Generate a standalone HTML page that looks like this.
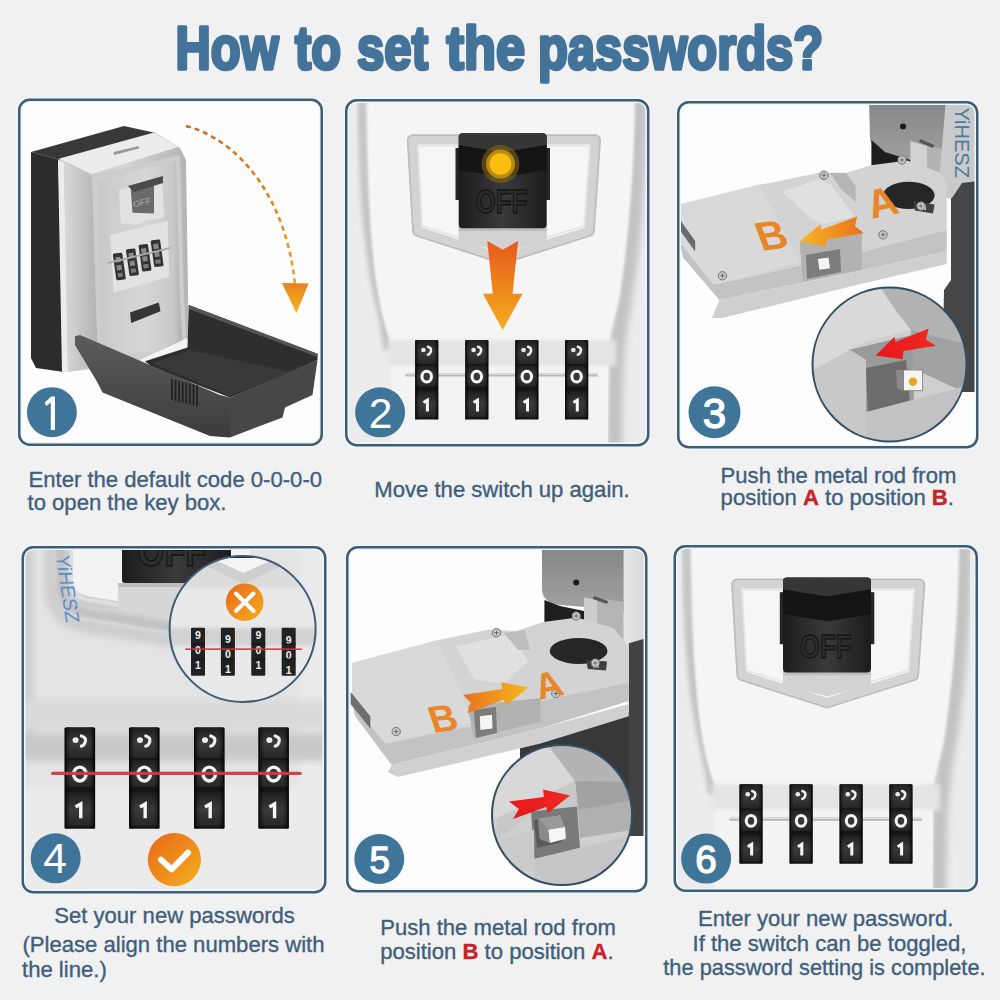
<!DOCTYPE html>
<html><head><meta charset="utf-8"><style>
html,body{margin:0;padding:0;background:#f1f1f1;width:1000px;height:1000px;overflow:hidden}
svg{display:block;font-family:"Liberation Sans",sans-serif}
</style></head><body>
<svg width="1000" height="1000" viewBox="0 0 1000 1000">
<rect width="1000" height="1000" fill="#f1f1f1"/>

<defs>
 <linearGradient id="dialg" x1="0" x2="1" y1="0" y2="0">
  <stop offset="0" stop-color="#000" stop-opacity="0.55"/><stop offset="0.2" stop-color="#000" stop-opacity="0"/><stop offset="0.8" stop-color="#000" stop-opacity="0"/><stop offset="1" stop-color="#000" stop-opacity="0.55"/>
 </linearGradient>
 <linearGradient id="dsec" x1="0" x2="0" y1="0" y2="1">
  <stop offset="0" stop-color="#1e1e1e"/><stop offset="0.5" stop-color="#3a3a3a"/><stop offset="1" stop-color="#262626"/>
 </linearGradient>
 <linearGradient id="arrowv" x1="0" x2="0" y1="0" y2="1">
  <stop offset="0" stop-color="#e65a1c"/><stop offset="1" stop-color="#f5ad1f"/>
 </linearGradient>
 <linearGradient id="arrowh" x1="1" x2="0" y1="0" y2="0">
  <stop offset="0" stop-color="#e8711c"/><stop offset="1" stop-color="#f6b722"/>
 </linearGradient>
 <linearGradient id="arrowh2" x1="0" x2="1" y1="0" y2="0">
  <stop offset="0" stop-color="#e8711c"/><stop offset="1" stop-color="#f6b722"/>
 </linearGradient>
 <linearGradient id="orangec" x1="0" x2="1" y1="0" y2="1">
  <stop offset="0" stop-color="#e8661a"/><stop offset="1" stop-color="#f5b01e"/>
 </linearGradient>
 <linearGradient id="silver" x1="0" x2="1" y1="0" y2="0">
  <stop offset="0" stop-color="#c2c2c2"/><stop offset="0.5" stop-color="#d4d4d4"/><stop offset="1" stop-color="#b4b4b4"/>
 </linearGradient>
 <linearGradient id="face1" x1="0" x2="1" y1="0" y2="0">
  <stop offset="0" stop-color="#c9c9c9"/><stop offset="0.55" stop-color="#d6d6d6"/><stop offset="0.88" stop-color="#c9c9c9"/><stop offset="1" stop-color="#aeaeae"/>
 </linearGradient>
 <linearGradient id="bevel1" x1="0" x2="1" y1="0" y2="0">
  <stop offset="0" stop-color="#d8d8d8"/><stop offset="1" stop-color="#b2b2b2"/>
 </linearGradient>
 <linearGradient id="dash1" gradientUnits="userSpaceOnUse" x1="186" y1="126" x2="295" y2="285">
  <stop offset="0" stop-color="#c96a1e"/><stop offset="1" stop-color="#eea021"/>
 </linearGradient>
 <linearGradient id="head1" x1="0" x2="0" y1="0" y2="1">
  <stop offset="0" stop-color="#e9811c"/><stop offset="1" stop-color="#f7b524"/>
 </linearGradient>
 <linearGradient id="box3" x1="0" x2="0" y1="0" y2="1">
  <stop offset="0" stop-color="#858585"/><stop offset="1" stop-color="#a2a2a2"/>
 </linearGradient>
 <linearGradient id="strip5" x1="0" x2="1" y1="0" y2="0">
  <stop offset="0" stop-color="#e6e6e6"/><stop offset="1" stop-color="#d4d4d4"/>
 </linearGradient>
 <linearGradient id="lidfront" x1="0" x2="0" y1="0" y2="1">
  <stop offset="0" stop-color="#5c5c5c"/><stop offset="1" stop-color="#3c3c3c"/>
 </linearGradient>
 <linearGradient id="redarrow" x1="0" x2="1" y1="0" y2="0">
  <stop offset="0" stop-color="#e8161b"/><stop offset="1" stop-color="#ee2a24"/>
 </linearGradient>
 <linearGradient id="sw" x1="0" x2="1" y1="0" y2="0">
  <stop offset="0" stop-color="#1c1c1c"/><stop offset="0.5" stop-color="#3a3a3a"/><stop offset="1" stop-color="#1c1c1c"/>
 </linearGradient>
 <linearGradient id="bodyshade" x1="0" x2="1" y1="0" y2="0">
  <stop offset="0" stop-color="#d8d8d8"/><stop offset="0.12" stop-color="#ececec"/><stop offset="0.3" stop-color="#f6f6f6"/>
  <stop offset="0.8" stop-color="#f4f4f4"/><stop offset="0.92" stop-color="#dcdcdc"/><stop offset="1" stop-color="#e8e8e8"/>
 </linearGradient>
 <filter id="blur2" x="-20%" y="-20%" width="140%" height="140%"><feGaussianBlur stdDeviation="2"/></filter>
 <filter id="blur3" x="-20%" y="-20%" width="140%" height="140%"><feGaussianBlur stdDeviation="3.5"/></filter>
 <filter id="blur1" x="-20%" y="-20%" width="140%" height="140%"><feGaussianBlur stdDeviation="1"/></filter>
<clipPath id="cp0"><rect x="19" y="99.5" width="303" height="345.5" rx="10"/></clipPath>
<clipPath id="cp1"><rect x="346" y="100" width="302.5" height="345.5" rx="10"/></clipPath>
<clipPath id="cp2"><rect x="678" y="102" width="299.5" height="345.5" rx="10"/></clipPath>
<clipPath id="cp3"><rect x="22.5" y="547" width="303" height="345.5" rx="10"/></clipPath>
<clipPath id="cp4"><rect x="347" y="547" width="299.5" height="344.5" rx="10"/></clipPath>
<clipPath id="cp5"><rect x="674.5" y="546" width="302.5" height="345" rx="10"/></clipPath>
<clipPath id="mag3"><circle cx="889.5" cy="364.6" r="77"/></clipPath>
<clipPath id="mag4"><circle cx="242.6" cy="629" r="73"/></clipPath>
<clipPath id="mag5"><circle cx="562" cy="815" r="70"/></clipPath>
</defs>
<g clip-path="url(#cp0)"><rect x="18" y="98" width="306" height="349" fill="#fdfdfd"/>
<polygon points="31.0,152.0 124.0,126.0 156.0,133.0 150.0,136.0 60.0,160.0" fill="#383838" />
<polygon points="31.0,152.0 60.0,160.0 64.0,372.0 36.0,368.0 31.0,358.0" fill="#2c2c2c" />
<polygon points="58.0,160.0 150.0,135.0 156.0,133.0 180.0,148.0 186.0,160.0 189.0,357.0 66.0,372.0" fill="url(#silver)" />
<polygon points="58.7,158.7 154.0,132.6 178.0,147.0 92.0,174.0" fill="#ececec" />
<polygon points="113.6,152.0 138.8,146.0 139.0,148.5 114.0,155.0" fill="#9a9a9a" />
<polygon points="58.0,160.0 64.0,162.0 68.0,372.0 62.0,372.0" fill="#ececec" />
<polygon points="64.0,162.0 92.0,176.0 98.0,362.0 68.0,372.0" fill="url(#bevel1)" />
<polygon points="92.0,176.0 180.0,155.0 184.0,300.0 188.0,357.0 98.0,362.0 96.0,300.0" fill="#cdcdcd" />
<polygon points="98.0,180.0 176.0,161.0 180.0,300.0 183.0,350.0 100.0,355.0" fill="url(#face1)" />
<polygon points="119.0,190.2 162.2,177.6 164.0,218.0 146.0,220.8 137.0,224.4 120.8,223.5" fill="#e2e2e2" />
<polygon points="130.7,188.4 154.0,181.2 154.0,213.6 132.5,212.7" fill="#6a6a6a" />
<polygon points="128.0,186.0 163.0,176.0 163.0,183.0 134.0,192.0" fill="#4a4a4a" />
<text x="133" y="206" font-size="9" fill="#999" font-family="Liberation Sans" font-weight="bold" transform="rotate(-12 140 203)">OFF</text>
<polygon points="110.0,235.0 167.6,220.8 169.4,276.6 113.6,292.8" fill="#e2e2e2" />
<g transform="rotate(-8 119.5 266)"><rect x="114.5" y="253" width="9.5" height="27" rx="1.5" fill="#333"/><rect x="116.5" y="257" width="5" height="5" fill="#8a8a8a"/><rect x="116.5" y="265" width="5" height="5" fill="#8a8a8a"/><rect x="116.5" y="273" width="5" height="4" fill="#7a7a7a"/></g>
<g transform="rotate(-8 132.6 261.7)"><rect x="127.6" y="248.7" width="9.5" height="27" rx="1.5" fill="#333"/><rect x="129.6" y="252.7" width="5" height="5" fill="#8a8a8a"/><rect x="129.6" y="260.7" width="5" height="5" fill="#8a8a8a"/><rect x="129.6" y="268.7" width="5" height="4" fill="#7a7a7a"/></g>
<g transform="rotate(-8 145.2 257.2)"><rect x="140.2" y="244.2" width="9.5" height="27" rx="1.5" fill="#333"/><rect x="142.2" y="248.2" width="5" height="5" fill="#8a8a8a"/><rect x="142.2" y="256.2" width="5" height="5" fill="#8a8a8a"/><rect x="142.2" y="264.2" width="5" height="4" fill="#7a7a7a"/></g>
<g transform="rotate(-8 157.3 252.7)"><rect x="152.3" y="239.7" width="9.5" height="27" rx="1.5" fill="#333"/><rect x="154.3" y="243.7" width="5" height="5" fill="#8a8a8a"/><rect x="154.3" y="251.7" width="5" height="5" fill="#8a8a8a"/><rect x="154.3" y="259.7" width="5" height="4" fill="#7a7a7a"/></g>
<polygon points="108.0,262.0 170.0,247.0 170.0,249.0 108.0,264.0" fill="#aaa" />
<polygon points="130.0,312.5 158.8,302.5 160.5,311.2 131.2,323.0" fill="#353535" />
<polygon points="135.0,362.0 187.5,338.0 188.8,348.0 145.0,364.0" fill="#f4f4f4" />
<polygon points="145.0,361.2 187.5,347.5 188.8,305.0 317.5,353.8 317.5,360.0 290.0,372.5 230.0,397.5 152.5,367.5" fill="#2e2e2e" />
<polygon points="152.0,363.0 190.0,350.0 290.0,372.0 230.0,396.0" fill="#393939" />
<polygon points="188.8,305.0 317.5,353.8 317.5,357.0 188.8,309.0" fill="#555" />
<polygon points="230.0,397.5 317.5,360.0 312.5,395.0 285.0,407.5 282.5,417.5 230.0,437.5" fill="#474747" />
<polygon points="75.0,336.2 80.0,335.0 220.0,395.0 230.0,397.5 230.0,437.5 210.0,436.0 102.5,392.5 97.5,382.5 75.0,345.0" fill="url(#lidfront)" />
<rect x="171.0" y="379.0" width="1.8" height="21" fill="#222"/>
<rect x="174.6" y="379.9" width="1.8" height="21" fill="#222"/>
<rect x="178.2" y="380.8" width="1.8" height="21" fill="#222"/>
<rect x="181.8" y="381.7" width="1.8" height="21" fill="#222"/>
<rect x="185.4" y="382.6" width="1.8" height="21" fill="#222"/>
<rect x="189.0" y="383.5" width="1.8" height="21" fill="#222"/>
<rect x="192.6" y="384.4" width="1.8" height="21" fill="#222"/>
<rect x="196.2" y="385.3" width="1.8" height="21" fill="#222"/>
<path d="M186,126 C240,140 287,200 295,285" fill="none" stroke="url(#dash1)" stroke-width="2.6" stroke-dasharray="5,4"/>
<polygon points="282,283 308.6,283.6 296.4,313.3" fill="url(#head1)"/>
<circle cx="51.9" cy="412.2" r="25" fill="#40759a"/><polygon points="51.2,396.4 55,396.4 55,430 50.8,430 50.8,402.6 46.4,405.9 44.5,402.7" fill="#fff"/></g>
<g clip-path="url(#cp1)"><rect x="345" y="99" width="306" height="350" fill="#ececec"/>
<path d="M362,92 C363,180 366,235 377,292 C382,312 386,330 388,350" fill="none" stroke="#c4c4c4" stroke-width="9" filter="url(#blur2)"/>
<path d="M640,92 C639,180 632,250 624,300 C618,330 614,360 614,455" fill="none" stroke="#c2c2c2" stroke-width="16" filter="url(#blur3)"/>
<path d="M367,92 L635,92 C634,180 627,250 619,300 L609,340 L607,455 L392,455 L392,345 C385,330 375,292 372,240 C369,205 368,150 367,92 Z" fill="#f5f5f5" filter="url(#blur1)"/>
<rect x="388" y="340" width="228" height="26" fill="#e4e4e4" filter="url(#blur2)"/>
<rect x="392" y="368" width="214" height="90" fill="#f3f3f3" filter="url(#blur2)"/>
<path d="M412.8,140.3 L595,140.3 L588.8,230.9 L502.6,258.2 L418.1,230.9 Z" fill="#f6f6f6" stroke="#bdbdbd" stroke-width="12" stroke-linejoin="round"/>
<path d="M412.8,140.3 L595,140.3 L588.8,230.9 L502.6,258.2 L418.1,230.9 Z" fill="#f6f6f6" stroke="#d3d3d3" stroke-width="8.5" stroke-linejoin="round"/>
<path d="M418,146 L590,146 L584,226 L502.6,251 L422,226 Z" fill="none" stroke="#e4e4e4" stroke-width="1.5" stroke-linejoin="round"/>
<path d="M458.7,226 L546.7,226 L546.7,241 L502.7,252 L458.7,241 Z" fill="#d2d2d2"/>
<rect x="458.7" y="226" width="88" height="5" fill="#bdbdbd"/>
<rect x="455.5" y="148" width="5" height="52" fill="#262626"/><rect x="545" y="148" width="5" height="52" fill="#262626"/>
<rect x="458.7" y="133.2" width="88" height="95" rx="4" fill="url(#sw)"/>
<polygon points="458.7,145.0 502.7,152.0 546.7,145.0 546.7,170.0 502.7,177.0 458.7,170.0" fill="#141414" />
<path d="M462.7,133.2 L542.7,133.2 Q546.7,133.2 546.7,137 L546.7,145 L502.7,152 L458.7,145 L458.7,137 Q458.7,133.2 462.7,133.2 Z" fill="#363636"/>
<g transform="translate(501.5 0) scale(0.78 1) translate(-501.5 0)"><text x="501.5" y="213.5" font-size="33" fill="#2c2c2c" stroke="#141414" stroke-width="1.3" text-anchor="middle" font-family="Liberation Sans" font-weight="bold">OFF</text></g>
<circle cx="500.5" cy="164" r="19" fill="#8a6a14" opacity="0.55"/>
<circle cx="500.5" cy="164" r="14.5" fill="#b88a12"/>
<circle cx="500.5" cy="164" r="10.8" fill="#fcbd12"/>
<polygon points="487.3,241.0 502.7,249.8 518.1,241.0 512.6,293.8 522.5,293.8 502.7,330.0 482.9,293.8 492.8,293.8" fill="url(#arrowv)" />
<rect x="405" y="373" width="193" height="3.6" rx="1.6" fill="#b8b8b8"/>
<rect x="405" y="373.4" width="193" height="1.2" fill="#ececec"/>
<rect x="415.1" y="340" width="23.2" height="79.6" rx="1.2" fill="#151515"/>
<rect x="416.49" y="340.00" width="20.42" height="24.12" fill="url(#dsec)"/>
<rect x="416.49" y="365.47" width="20.42" height="21.09" fill="url(#dsec)"/>
<rect x="416.49" y="390.94" width="20.42" height="26.27" fill="url(#dsec)"/>
<rect x="415.1" y="340" width="23.2" height="79.6" rx="1.2" fill="url(#dialg)"/>
<path d="M427.86,346.77 Q431.80,347.96 430.88,351.14 Q429.95,354.33 427.86,354.73" fill="none" stroke="#f0f0f0" stroke-width="2.45" stroke-linecap="round"/>
<ellipse cx="423.45" cy="349.95" rx="2.32" ry="2.23" fill="#ececec"/>
<ellipse cx="426.70" cy="376.62" rx="4.76" ry="5.41" fill="none" stroke="#f6f6f6" stroke-width="3.02"/>
<path d="M423.45,402.49 L427.40,400.10 L427.40,411.40" fill="none" stroke="#f6f6f6" stroke-width="3.02" stroke-linejoin="miter"/>
<rect x="465.2" y="340" width="23.2" height="79.6" rx="1.2" fill="#151515"/>
<rect x="466.59" y="340.00" width="20.42" height="24.12" fill="url(#dsec)"/>
<rect x="466.59" y="365.47" width="20.42" height="21.09" fill="url(#dsec)"/>
<rect x="466.59" y="390.94" width="20.42" height="26.27" fill="url(#dsec)"/>
<rect x="465.2" y="340" width="23.2" height="79.6" rx="1.2" fill="url(#dialg)"/>
<path d="M477.96,346.77 Q481.90,347.96 480.98,351.14 Q480.05,354.33 477.96,354.73" fill="none" stroke="#f0f0f0" stroke-width="2.45" stroke-linecap="round"/>
<ellipse cx="473.55" cy="349.95" rx="2.32" ry="2.23" fill="#ececec"/>
<ellipse cx="476.80" cy="376.62" rx="4.76" ry="5.41" fill="none" stroke="#f6f6f6" stroke-width="3.02"/>
<path d="M473.55,402.49 L477.50,400.10 L477.50,411.40" fill="none" stroke="#f6f6f6" stroke-width="3.02" stroke-linejoin="miter"/>
<rect x="515.2" y="340" width="23.2" height="79.6" rx="1.2" fill="#151515"/>
<rect x="516.59" y="340.00" width="20.42" height="24.12" fill="url(#dsec)"/>
<rect x="516.59" y="365.47" width="20.42" height="21.09" fill="url(#dsec)"/>
<rect x="516.59" y="390.94" width="20.42" height="26.27" fill="url(#dsec)"/>
<rect x="515.2" y="340" width="23.2" height="79.6" rx="1.2" fill="url(#dialg)"/>
<path d="M527.96,346.77 Q531.90,347.96 530.98,351.14 Q530.05,354.33 527.96,354.73" fill="none" stroke="#f0f0f0" stroke-width="2.45" stroke-linecap="round"/>
<ellipse cx="523.55" cy="349.95" rx="2.32" ry="2.23" fill="#ececec"/>
<ellipse cx="526.80" cy="376.62" rx="4.76" ry="5.41" fill="none" stroke="#f6f6f6" stroke-width="3.02"/>
<path d="M523.55,402.49 L527.50,400.10 L527.50,411.40" fill="none" stroke="#f6f6f6" stroke-width="3.02" stroke-linejoin="miter"/>
<rect x="565" y="340" width="23.2" height="79.6" rx="1.2" fill="#151515"/>
<rect x="566.39" y="340.00" width="20.42" height="24.12" fill="url(#dsec)"/>
<rect x="566.39" y="365.47" width="20.42" height="21.09" fill="url(#dsec)"/>
<rect x="566.39" y="390.94" width="20.42" height="26.27" fill="url(#dsec)"/>
<rect x="565" y="340" width="23.2" height="79.6" rx="1.2" fill="url(#dialg)"/>
<path d="M577.76,346.77 Q581.70,347.96 580.78,351.14 Q579.85,354.33 577.76,354.73" fill="none" stroke="#f0f0f0" stroke-width="2.45" stroke-linecap="round"/>
<ellipse cx="573.35" cy="349.95" rx="2.32" ry="2.23" fill="#ececec"/>
<ellipse cx="576.60" cy="376.62" rx="4.76" ry="5.41" fill="none" stroke="#f6f6f6" stroke-width="3.02"/>
<path d="M573.35,402.49 L577.30,400.10 L577.30,411.40" fill="none" stroke="#f6f6f6" stroke-width="3.02" stroke-linejoin="miter"/>
<circle cx="380.1" cy="412.3" r="25" fill="#40759a"/><text x="380.6" y="427.6" font-size="42.6" fill="#fff"  text-anchor="middle" font-family="Liberation Sans" >2</text></g>
<g clip-path="url(#cp2)"><rect x="677" y="101" width="302" height="348" fill="#fdfdfd"/>
<path d="M869,99 L949,99 L949,160 L927,167 L910,167 L885,152 Q871,150 870,138 Z" fill="url(#box3)"/>
<circle cx="903" cy="126.6" r="3" fill="#1a1a1a"/>
<polygon points="871.4,140.0 885.0,152.0 910.4,160.0 910.4,168.0 871.4,169.0" fill="#1e1e1e" />
<polygon points="927.0,146.0 949.0,150.0 949.0,178.0 927.0,168.0" fill="#b3b3b3" />
<polygon points="910.4,141.0 927.0,146.0 927.2,167.2 910.4,167.2" fill="#d2d2d2" />
<polygon points="920.0,139.0 934.0,145.0 933.0,148.0 919.0,142.0" fill="#555" />
<polygon points="951.0,185.0 979.0,178.0 979.0,392.0 942.0,392.0 944.0,290.0 951.0,280.0" fill="#464646" />
<polygon points="946.0,99.0 979.0,99.0 979.0,181.0 962.0,183.0 952.0,198.0 940.0,198.0 940.0,170.0" fill="#c9cacc" />
<polygon points="680.0,204.5 758.8,184.8 767.9,183.3 819.4,172.7 846.7,172.7 870.9,165.2 907.3,160.6 940.6,172.7 946.7,184.8 946.7,230.3 907.3,242.4 864.9,251.5 801.2,265.2 713.4,284.8 680.0,242.4" fill="#d3d3d3" />
<polygon points="680.0,204.5 758.8,184.8 800.0,262.0 713.4,284.8 680.0,242.4" fill="#d9d9d9" />
<polygon points="680.0,242.4 713.4,284.8 801.2,265.2 864.9,251.5 946.7,230.3 946.7,251.5 864.9,269.7 719.4,300.0 683.0,257.6" fill="#c3c3c3" />
<polygon points="719.4,300.0 864.9,269.7 946.7,251.5 946.7,264.0 864.9,283.0 722.0,318.0 712.0,318.0" fill="#cfcfcf" />
<polygon points="680.0,219.7 695.2,240.9 695.2,251.5 680.0,230.3" fill="#6a6a6a" />
<polygon points="782.0,192.0 819.0,179.0 831.0,185.0 854.0,216.0 825.0,224.0 812.0,219.0" fill="#e0e0e0" />
<polygon points="830.0,173.0 846.0,173.0 855.6,186.0 855.6,202.0 841.0,189.0" fill="#b6b6b6" />
<ellipse cx="908.8" cy="195.4" rx="25.8" ry="13.6" fill="#262626"/>
<polygon points="913.4,201.5 934.6,204.5 933.0,213.6 914.9,210.6" fill="#404040" />
<rect x="920" y="205" width="6" height="5" fill="#cfcfcf"/>
<polygon points="799.7,242.4 861.8,230.3 861.8,269.7 802.8,281.8" fill="#b2b2b2" />
<polygon points="806.0,255.0 840.0,249.0 841.0,272.0 807.0,279.0" fill="#7c7c7c" />
<polygon points="817.9,259.0 828.5,257.6 830.0,268.2 819.4,269.7" fill="#f4f4f4" />
<circle cx="722.5" cy="275.8" r="4.2" fill="#c8c8c8" stroke="#6a6a6a" stroke-width="0.9"/><path d="M720.2,275.8 L724.8,275.8 M722.5,273.5 L722.5,278.1" stroke="#666" stroke-width="0.9"/>
<circle cx="883" cy="234.8" r="4.2" fill="#c8c8c8" stroke="#6a6a6a" stroke-width="0.9"/><path d="M880.7,234.8 L885.3,234.8 M883.0,232.5 L883.0,237.1" stroke="#666" stroke-width="0.9"/>
<circle cx="824" cy="175.2" r="4.2" fill="#c8c8c8" stroke="#6a6a6a" stroke-width="0.9"/><path d="M821.7,175.2 L826.3,175.2 M824.0,172.9 L824.0,177.5" stroke="#666" stroke-width="0.9"/>
<circle cx="902" cy="160" r="4.2" fill="#c8c8c8" stroke="#6a6a6a" stroke-width="0.9"/><path d="M899.7,160.0 L904.3,160.0 M902.0,157.7 L902.0,162.3" stroke="#666" stroke-width="0.9"/>
<circle cx="921" cy="206" r="4.2" fill="#c8c8c8" stroke="#6a6a6a" stroke-width="0.9"/><path d="M918.7,206.0 L923.3,206.0 M921.0,203.7 L921.0,208.3" stroke="#666" stroke-width="0.9"/>
<g transform="translate(886.5 216) rotate(-12) skewX(6)"><text x="0" y="0" font-size="41" fill="#e8862a" text-anchor="middle" font-family="Liberation Sans" font-weight="bold">A</text></g>
<g transform="translate(776.5 249) rotate(-8) skewX(12)"><text x="0" y="0" font-size="41" fill="#e8862a" text-anchor="middle" font-family="Liberation Sans" font-weight="bold">B</text></g>
<polygon points="799.6,241.2 820.4,224.4 821.6,229.5 857.2,216.4 855.0,226.0 863.6,233.2 827.0,239.5 825.2,246.8" fill="url(#arrowh)" />
<g clip-path="url(#mag3)"><rect x="810" y="285" width="160" height="160" fill="#cfcfcf"/><polygon points="810.0,290.0 879.0,288.0 897.0,312.0 911.0,330.0 862.0,343.0 850.0,350.0 810.0,372.0" fill="#d9d9d9" /><polygon points="879.0,285.0 970.0,285.0 970.0,352.0 911.0,330.0 897.0,312.0" fill="#b3b3b3" /><polygon points="911.0,330.0 970.0,345.0 970.0,395.0 912.0,368.0" fill="#a2a2a2" /><polygon points="848.0,350.0 912.0,335.0 914.0,400.0 866.0,415.0 866.0,360.0" fill="#9a9a9a" /><polygon points="866.0,368.0 906.0,360.0 910.0,404.0 868.0,414.0" fill="#6c6c6c" /><polygon points="810.0,372.0 850.0,350.0 866.0,360.0 866.0,445.0 810.0,445.0" fill="#c8c8c8" /><polygon points="866.0,412.0 970.0,385.0 970.0,445.0 866.0,445.0" fill="#c2c2c2" /><polygon points="896.0,370.0 903.5,370.0 903.5,391.0 897.0,388.0" fill="#8a8a8a" /><rect x="903.5" y="370" width="19" height="20.7" fill="#f5f5f5" stroke="#7a7a7a" stroke-width="0.8"/><circle cx="913" cy="381.7" r="4.2" fill="#e8a81c"/><polygon points="875.6,355.6 894.5,336.7 895.4,342.1 928.7,328.6 926.0,339.4 935.9,345.7 903.5,351.1 902.6,359.2" fill="url(#redarrow)" /></g>
<circle cx="889.5" cy="364.6" r="77" fill="none" stroke="#2f4f66" stroke-width="2"/>
<text x="954.5" y="107.5" font-size="20" fill="#4f7a99" font-family="Liberation Sans" transform="rotate(90 954.5 107.5)">YiHESZ</text>
<circle cx="714.5" cy="412.2" r="26" fill="#40759a"/><text x="714.6" y="427.7" font-size="42.2" fill="#fff" stroke="#fff" stroke-width="1.3" text-anchor="middle" font-family="Liberation Sans" >3</text></g>
<g clip-path="url(#cp3)"><rect x="21" y="546" width="306" height="348" fill="#e3e3e3"/>
<rect x="14" y="540" width="20" height="210" fill="#cfcfcf" filter="url(#blur3)"/>
<rect x="300" y="540" width="30" height="360" fill="#ebebeb" filter="url(#blur3)"/>
<rect x="14" y="700" width="316" height="30" fill="#dadada" filter="url(#blur3)"/>
<rect x="14" y="733" width="316" height="28" fill="#c9c9c9" filter="url(#blur3)"/>
<rect x="14" y="786" width="316" height="110" fill="#ebebeb" filter="url(#blur3)"/>
<path d="M52,540 L52,590 Q54,622 88,626 L250,652" fill="none" stroke="#cdcdcd" stroke-width="14" filter="url(#blur3)"/>
<path d="M73,540 L250,540 L250,622 L96,598 Q76,594 73,585 Z" fill="#f3f3f3"/>
<path d="M62,540 L62,584 Q64,606 92,608 L250,634" fill="none" stroke="#cecece" stroke-width="22" stroke-linejoin="round"/>
<path d="M61,540 L61,588 Q64,612 94,614 L250,640" fill="none" stroke="#c2c2c2" stroke-width="7" filter="url(#blur1)"/>
<path d="M71,540 L71,584 Q73,600 96,601 L250,627" fill="none" stroke="#dedede" stroke-width="4"/>
<path d="M118,583 L233,583 L233,612 L180,622 L118,610 Z" fill="#d6d6d6"/>
<rect x="118" y="583" width="115" height="4" fill="#bdbdbd"/>
<rect x="122" y="540" width="109" height="43" rx="3" fill="url(#sw)"/>
<g transform="translate(172 0) scale(0.78 1) translate(-172 0)"><text x="172" y="566" font-size="44" fill="#2e2e2e" stroke="#141414" stroke-width="1.5" text-anchor="middle" font-family="Liberation Sans" font-weight="bold">OFF</text></g>
<g transform="translate(55.5 555) rotate(81) skewX(-8)"><text x="0" y="0" font-size="19.5" fill="#5c90c8" font-family="Liberation Sans">YiHESZ</text></g>
<rect x="64.6" y="727.4" width="30.5" height="101.4" rx="1.2" fill="#151515"/>
<rect x="66.43" y="727.40" width="26.84" height="30.72" fill="url(#dsec)"/>
<rect x="66.43" y="759.85" width="26.84" height="26.87" fill="url(#dsec)"/>
<rect x="66.43" y="792.30" width="26.84" height="33.46" fill="url(#dsec)"/>
<rect x="64.6" y="727.4" width="30.5" height="101.4" rx="1.2" fill="url(#dialg)"/>
<path d="M81.38,736.02 Q86.56,737.54 85.34,741.60 Q84.12,745.65 81.38,746.16" fill="none" stroke="#f0f0f0" stroke-width="3.22" stroke-linecap="round"/>
<ellipse cx="75.58" cy="740.07" rx="3.05" ry="2.84" fill="#ececec"/>
<ellipse cx="79.85" cy="774.04" rx="6.25" ry="6.90" fill="none" stroke="#f6f6f6" stroke-width="3.40"/>
<path d="M75.58,807.00 L80.76,803.96 L80.76,818.36" fill="none" stroke="#f6f6f6" stroke-width="3.40" stroke-linejoin="miter"/>
<rect x="129" y="727.4" width="30.5" height="101.4" rx="1.2" fill="#151515"/>
<rect x="130.83" y="727.40" width="26.84" height="30.72" fill="url(#dsec)"/>
<rect x="130.83" y="759.85" width="26.84" height="26.87" fill="url(#dsec)"/>
<rect x="130.83" y="792.30" width="26.84" height="33.46" fill="url(#dsec)"/>
<rect x="129" y="727.4" width="30.5" height="101.4" rx="1.2" fill="url(#dialg)"/>
<path d="M145.78,736.02 Q150.96,737.54 149.74,741.60 Q148.52,745.65 145.78,746.16" fill="none" stroke="#f0f0f0" stroke-width="3.22" stroke-linecap="round"/>
<ellipse cx="139.98" cy="740.07" rx="3.05" ry="2.84" fill="#ececec"/>
<ellipse cx="144.25" cy="774.04" rx="6.25" ry="6.90" fill="none" stroke="#f6f6f6" stroke-width="3.40"/>
<path d="M139.98,807.00 L145.16,803.96 L145.16,818.36" fill="none" stroke="#f6f6f6" stroke-width="3.40" stroke-linejoin="miter"/>
<rect x="194" y="727.4" width="30.5" height="101.4" rx="1.2" fill="#151515"/>
<rect x="195.83" y="727.40" width="26.84" height="30.72" fill="url(#dsec)"/>
<rect x="195.83" y="759.85" width="26.84" height="26.87" fill="url(#dsec)"/>
<rect x="195.83" y="792.30" width="26.84" height="33.46" fill="url(#dsec)"/>
<rect x="194" y="727.4" width="30.5" height="101.4" rx="1.2" fill="url(#dialg)"/>
<path d="M210.78,736.02 Q215.96,737.54 214.74,741.60 Q213.52,745.65 210.78,746.16" fill="none" stroke="#f0f0f0" stroke-width="3.22" stroke-linecap="round"/>
<ellipse cx="204.98" cy="740.07" rx="3.05" ry="2.84" fill="#ececec"/>
<ellipse cx="209.25" cy="774.04" rx="6.25" ry="6.90" fill="none" stroke="#f6f6f6" stroke-width="3.40"/>
<path d="M204.98,807.00 L210.16,803.96 L210.16,818.36" fill="none" stroke="#f6f6f6" stroke-width="3.40" stroke-linejoin="miter"/>
<rect x="258.4" y="727.4" width="30.5" height="101.4" rx="1.2" fill="#151515"/>
<rect x="260.23" y="727.40" width="26.84" height="30.72" fill="url(#dsec)"/>
<rect x="260.23" y="759.85" width="26.84" height="26.87" fill="url(#dsec)"/>
<rect x="260.23" y="792.30" width="26.84" height="33.46" fill="url(#dsec)"/>
<rect x="258.4" y="727.4" width="30.5" height="101.4" rx="1.2" fill="url(#dialg)"/>
<path d="M275.17,736.02 Q280.36,737.54 279.14,741.60 Q277.92,745.65 275.17,746.16" fill="none" stroke="#f0f0f0" stroke-width="3.22" stroke-linecap="round"/>
<ellipse cx="269.38" cy="740.07" rx="3.05" ry="2.84" fill="#ececec"/>
<ellipse cx="273.65" cy="774.04" rx="6.25" ry="6.90" fill="none" stroke="#f6f6f6" stroke-width="3.40"/>
<path d="M269.38,807.00 L274.56,803.96 L274.56,818.36" fill="none" stroke="#f6f6f6" stroke-width="3.40" stroke-linejoin="miter"/>
<rect x="51.2" y="771.7" width="250.6" height="3.4" rx="1.7" fill="#cc3b3f" opacity="0.95"/>
<g clip-path="url(#mag4)"><rect x="165" y="550" width="155" height="160" fill="#e9e9e9"/><rect x="160" y="628" width="165" height="18" fill="#d2d2d2" filter="url(#blur2)"/><rect x="160" y="560" width="165" height="28" fill="#dcdcdc" filter="url(#blur2)"/><path d="M190,552 L200,563 L243.5,584 L287,563 L300,552 Z" fill="#cfcfcf"/><path d="M205,552 L215,560 L243.5,573 L272,560 L283,552 Z" fill="#f5f5f5"/><rect x="215" y="550" width="57" height="8" fill="#2a2a2a"/><rect x="191" y="627.7" width="14" height="48" rx="1" fill="#222"/><text x="198" y="639.3" font-size="10.5" fill="#eee" text-anchor="middle" font-family="Liberation Sans" font-weight="bold">9</text><text x="198" y="654" font-size="10.5" fill="#eee" text-anchor="middle" font-family="Liberation Sans" font-weight="bold">0</text><text x="198" y="668.8" font-size="10.5" fill="#eee" text-anchor="middle" font-family="Liberation Sans" font-weight="bold">1</text><rect x="191" y="643.5" width="14" height="1" fill="#111"/><rect x="191" y="658.5" width="14" height="1" fill="#111"/><rect x="220.9" y="627.7" width="14" height="48" rx="1" fill="#222"/><text x="227.9" y="643.3" font-size="10.5" fill="#eee" text-anchor="middle" font-family="Liberation Sans" font-weight="bold">9</text><text x="227.9" y="658" font-size="10.5" fill="#eee" text-anchor="middle" font-family="Liberation Sans" font-weight="bold">0</text><text x="227.9" y="672.8" font-size="10.5" fill="#eee" text-anchor="middle" font-family="Liberation Sans" font-weight="bold">1</text><rect x="220.9" y="643.5" width="14" height="1" fill="#111"/><rect x="220.9" y="658.5" width="14" height="1" fill="#111"/><rect x="251.3" y="627.7" width="14" height="48" rx="1" fill="#222"/><text x="258.3" y="639.3" font-size="10.5" fill="#eee" text-anchor="middle" font-family="Liberation Sans" font-weight="bold">9</text><text x="258.3" y="654" font-size="10.5" fill="#eee" text-anchor="middle" font-family="Liberation Sans" font-weight="bold">0</text><text x="258.3" y="668.8" font-size="10.5" fill="#eee" text-anchor="middle" font-family="Liberation Sans" font-weight="bold">1</text><rect x="251.3" y="643.5" width="14" height="1" fill="#111"/><rect x="251.3" y="658.5" width="14" height="1" fill="#111"/><rect x="281.7" y="627.7" width="14" height="48" rx="1" fill="#222"/><text x="288.7" y="644.3" font-size="10.5" fill="#eee" text-anchor="middle" font-family="Liberation Sans" font-weight="bold">9</text><text x="288.7" y="659" font-size="10.5" fill="#eee" text-anchor="middle" font-family="Liberation Sans" font-weight="bold">0</text><text x="288.7" y="673.8" font-size="10.5" fill="#eee" text-anchor="middle" font-family="Liberation Sans" font-weight="bold">1</text><rect x="281.7" y="643.5" width="14" height="1" fill="#111"/><rect x="281.7" y="658.5" width="14" height="1" fill="#111"/><rect x="185.2" y="648.4" width="116.5" height="1.5" fill="#c8373d"/><circle cx="244.7" cy="602.2" r="18.8" fill="url(#orangec)"/><path d="M236,593.5 L253.5,611 M253.5,593.5 L236,611" stroke="#fff" stroke-width="4" stroke-linecap="round"/></g>
<circle cx="242.6" cy="629" r="73" fill="none" stroke="#3b5d78" stroke-width="2"/>
<circle cx="174.4" cy="859.6" r="26.6" fill="url(#orangec)"/>
<path d="M161,859.6 L171.6,869.4 L188,852.6" fill="none" stroke="#fff" stroke-width="6" stroke-linecap="round" stroke-linejoin="round"/>
<circle cx="55.7" cy="858.3" r="25" fill="#40759a"/><text x="55.0" y="873.3" font-size="42.6" fill="#fff"  text-anchor="middle" font-family="Liberation Sans" >4</text></g>
<g clip-path="url(#cp4)"><rect x="346" y="546" width="302" height="347" fill="#fdfdfd"/>
<path d="M542,544 L624,544 L624,612 L600,612 L585,607 L560,605 Q543,603 542,590 Z" fill="url(#box3)"/>
<circle cx="576.2" cy="582.5" r="3" fill="#1a1a1a"/>
<polygon points="623.6,544.0 650.0,544.0 650.0,637.2 628.8,646.3 623.6,640.0" fill="url(#strip5)" />
<polygon points="544.4,600.0 560.0,606.0 584.0,611.0 584.0,625.0 544.4,626.0" fill="#1e1e1e" />
<polygon points="597.0,598.0 623.6,602.0 623.6,640.0 597.0,625.0" fill="#b5b5b5" />
<polygon points="584.0,597.6 597.2,600.0 597.2,624.0 584.0,624.0" fill="#cdcdcd" />
<polygon points="594.0,596.0 608.0,601.0 607.0,604.0 593.0,599.0" fill="#555" />
<polygon points="628.8,643.3 650.0,637.2 650.0,836.0 616.0,836.0 616.0,712.0 628.8,712.0" fill="#424242" />
<polygon points="520.0,738.0 600.0,718.0 628.8,712.0 628.8,790.0 520.0,790.0" fill="#383838" />
<polygon points="352.1,663.1 437.2,640.3 488.9,629.6 516.3,631.1 543.6,622.0 577.1,617.5 613.6,628.1 628.8,646.3 628.8,682.8 577.1,695.0 540.6,701.1 473.7,725.4 385.5,743.6 352.1,704.1" fill="#d3d3d3" />
<polygon points="352.1,663.1 437.2,640.3 474.0,722.0 385.5,743.6 352.1,704.1" fill="#d9d9d9" />
<polygon points="352.1,704.1 385.5,743.6 473.7,725.4 540.6,701.1 628.8,682.8 628.8,701.1 540.6,728.4 391.6,764.9 355.1,716.3" fill="#c3c3c3" />
<polygon points="391.6,764.9 540.6,728.4 628.8,704.1 628.8,716.3 540.6,743.6 397.7,777.1 388.0,772.0" fill="#d0d0d0" />
<polygon points="350.6,692.0 370.3,716.3 370.3,728.4 350.6,704.1" fill="#6e6e6e" />
<polygon points="455.5,646.3 510.2,634.2 528.4,661.5 503.0,684.0 474.0,679.0" fill="#e0e0e0" />
<polygon points="504.0,633.0 525.0,630.0 530.0,650.0 518.0,650.0" fill="#bdbdbd" />
<ellipse cx="578.6" cy="650.9" rx="28.9" ry="13" fill="#262626"/>
<polygon points="586.0,660.0 607.0,661.5 606.0,670.6 587.8,669.0" fill="#404040" />
<rect x="593" y="662.5" width="6" height="5" fill="#cfcfcf"/>
<polygon points="467.6,705.6 540.6,698.0 540.6,722.0 473.7,737.5" fill="#b2b2b2" />
<polygon points="473.7,710.0 496.0,707.0 497.0,733.0 476.0,738.0" fill="#7c7c7c" />
<polygon points="479.8,716.3 492.0,714.7 492.5,728.4 480.4,730.0" fill="#f4f4f4" />
<circle cx="396.2" cy="731.5" r="4.2" fill="#c8c8c8" stroke="#6a6a6a" stroke-width="0.9"/><path d="M393.9,731.5 L398.5,731.5 M396.2,729.2 L396.2,733.8" stroke="#666" stroke-width="0.9"/>
<circle cx="555.8" cy="693.5" r="4.2" fill="#c8c8c8" stroke="#6a6a6a" stroke-width="0.9"/><path d="M553.5,693.5 L558.1,693.5 M555.8,691.2 L555.8,695.8" stroke="#666" stroke-width="0.9"/>
<circle cx="496.5" cy="632.7" r="4.2" fill="#c8c8c8" stroke="#6a6a6a" stroke-width="0.9"/><path d="M494.2,632.7 L498.8,632.7 M496.5,630.4 L496.5,635.0" stroke="#666" stroke-width="0.9"/>
<circle cx="576.2" cy="616" r="4.2" fill="#c8c8c8" stroke="#6a6a6a" stroke-width="0.9"/><path d="M573.9,616.0 L578.5,616.0 M576.2,613.7 L576.2,618.3" stroke="#666" stroke-width="0.9"/>
<circle cx="595.3" cy="663" r="4.2" fill="#c8c8c8" stroke="#6a6a6a" stroke-width="0.9"/><path d="M593.0,663.0 L597.6,663.0 M595.3,660.7 L595.3,665.3" stroke="#666" stroke-width="0.9"/>
<g transform="translate(552.5 697) rotate(-12) skewX(6)"><text x="0" y="0" font-size="37" fill="#e8862a" text-anchor="middle" font-family="Liberation Sans" font-weight="bold">A</text></g>
<g transform="translate(447 731) rotate(-8) skewX(10)"><text x="0" y="0" font-size="38" fill="#e8862a" text-anchor="middle" font-family="Liberation Sans" font-weight="bold">B</text></g>
<polygon points="463.1,695.0 502.6,689.0 501.1,682.2 528.4,687.4 505.6,705.6 504.1,699.5 467.6,713.2 470.7,702.6" fill="url(#arrowh2)" />
<g clip-path="url(#mag5)"><rect x="490" y="740" width="145" height="150" fill="#cfcfcf"/><polygon points="490.0,760.0 548.0,747.0 575.0,781.0 497.0,818.0 490.0,818.0" fill="#d8d8d8" /><polygon points="548.0,745.0 600.0,745.0 630.0,782.0 577.0,788.0 575.0,781.0" fill="#b4b4b4" /><polygon points="575.0,781.0 630.0,782.0 632.0,803.0 578.0,810.0" fill="#a2a2a2" /><polygon points="497.0,818.0 575.0,781.0 578.0,810.0 530.0,815.0 497.0,840.0" fill="#c8c8c8" /><polygon points="578.0,810.0 632.0,800.0 632.0,830.0 580.0,838.0" fill="#b0b0b0" /><polygon points="531.0,811.6 577.0,806.5 580.0,848.0 534.4,859.0" fill="#7a7a7a" /><polygon points="534.0,820.0 559.0,815.0 562.0,842.0 537.0,848.0" fill="#5a5a5a" /><polygon points="537.8,818.4 559.9,815.0 565.0,827.0 548.0,829.8" fill="#9a9a9a" /><polygon points="548.0,829.8 565.0,827.0 565.9,838.8 549.7,843.0" fill="#f6f6f6" /><polygon points="537.8,818.4 548.0,829.8 549.7,843.0 539.5,838.8" fill="#8a8a8a" /><polygon points="497.0,840.0 534.0,830.0 534.4,870.0 497.0,880.0" fill="#cacaca" /><polygon points="534.4,859.0 632.0,835.0 632.0,890.0 534.4,890.0" fill="#c6c6c6" /><polygon points="509.0,801.4 544.0,797.0 543.0,789.5 570.0,795.5 548.0,813.0 546.0,807.0 513.0,819.0 519.0,809.0" fill="url(#redarrow)" /></g>
<circle cx="562" cy="815" r="70" fill="none" stroke="#2f4f66" stroke-width="2"/>
<circle cx="379.3" cy="859" r="25" fill="#40759a"/><text x="379.8" y="872.6" font-size="36.7" fill="#fff" stroke="#fff" stroke-width="1.3" text-anchor="middle" font-family="Liberation Sans" >5</text></g>
<g clip-path="url(#cp5)"><g transform="translate(324.3 444.2)">
<rect x="345" y="99" width="306" height="350" fill="#ececec"/>
<path d="M362,92 C363,180 366,235 377,292 C382,312 386,330 388,350" fill="none" stroke="#c4c4c4" stroke-width="9" filter="url(#blur2)"/>
<path d="M640,92 C639,180 632,250 624,300 C618,330 614,360 614,455" fill="none" stroke="#c2c2c2" stroke-width="16" filter="url(#blur3)"/>
<path d="M367,92 L635,92 C634,180 627,250 619,300 L609,340 L607,455 L392,455 L392,345 C385,330 375,292 372,240 C369,205 368,150 367,92 Z" fill="#f5f5f5" filter="url(#blur1)"/>
<rect x="388" y="340" width="228" height="26" fill="#e4e4e4" filter="url(#blur2)"/>
<rect x="392" y="368" width="214" height="90" fill="#f3f3f3" filter="url(#blur2)"/>
<path d="M412.8,140.3 L595,140.3 L588.8,230.9 L502.6,258.2 L418.1,230.9 Z" fill="#f6f6f6" stroke="#bdbdbd" stroke-width="12" stroke-linejoin="round"/>
<path d="M412.8,140.3 L595,140.3 L588.8,230.9 L502.6,258.2 L418.1,230.9 Z" fill="#f6f6f6" stroke="#d3d3d3" stroke-width="8.5" stroke-linejoin="round"/>
<path d="M418,146 L590,146 L584,226 L502.6,251 L422,226 Z" fill="none" stroke="#e4e4e4" stroke-width="1.5" stroke-linejoin="round"/>
<path d="M458.7,226 L546.7,226 L546.7,241 L502.7,252 L458.7,241 Z" fill="#d2d2d2"/>
<rect x="458.7" y="226" width="88" height="5" fill="#bdbdbd"/>
<rect x="455.5" y="148" width="5" height="52" fill="#262626"/><rect x="545" y="148" width="5" height="52" fill="#262626"/>
<rect x="458.7" y="133.2" width="88" height="95" rx="4" fill="url(#sw)"/>
<polygon points="458.7,145.0 502.7,152.0 546.7,145.0 546.7,170.0 502.7,177.0 458.7,170.0" fill="#141414" />
<path d="M462.7,133.2 L542.7,133.2 Q546.7,133.2 546.7,137 L546.7,145 L502.7,152 L458.7,145 L458.7,137 Q458.7,133.2 462.7,133.2 Z" fill="#363636"/>
<g transform="translate(501.5 0) scale(0.78 1) translate(-501.5 0)"><text x="501.5" y="213.5" font-size="33" fill="#2c2c2c" stroke="#141414" stroke-width="1.3" text-anchor="middle" font-family="Liberation Sans" font-weight="bold">OFF</text></g>
<rect x="405" y="373" width="193" height="3.6" rx="1.6" fill="#b8b8b8"/>
<rect x="405" y="373.4" width="193" height="1.2" fill="#ececec"/>
<rect x="415.1" y="340" width="23.2" height="79.6" rx="1.2" fill="#151515"/>
<rect x="416.49" y="340.00" width="20.42" height="24.12" fill="url(#dsec)"/>
<rect x="416.49" y="365.47" width="20.42" height="21.09" fill="url(#dsec)"/>
<rect x="416.49" y="390.94" width="20.42" height="26.27" fill="url(#dsec)"/>
<rect x="415.1" y="340" width="23.2" height="79.6" rx="1.2" fill="url(#dialg)"/>
<path d="M427.86,346.77 Q431.80,347.96 430.88,351.14 Q429.95,354.33 427.86,354.73" fill="none" stroke="#f0f0f0" stroke-width="2.45" stroke-linecap="round"/>
<ellipse cx="423.45" cy="349.95" rx="2.32" ry="2.23" fill="#ececec"/>
<ellipse cx="426.70" cy="376.62" rx="4.76" ry="5.41" fill="none" stroke="#f6f6f6" stroke-width="3.02"/>
<path d="M423.45,402.49 L427.40,400.10 L427.40,411.40" fill="none" stroke="#f6f6f6" stroke-width="3.02" stroke-linejoin="miter"/>
<rect x="465.2" y="340" width="23.2" height="79.6" rx="1.2" fill="#151515"/>
<rect x="466.59" y="340.00" width="20.42" height="24.12" fill="url(#dsec)"/>
<rect x="466.59" y="365.47" width="20.42" height="21.09" fill="url(#dsec)"/>
<rect x="466.59" y="390.94" width="20.42" height="26.27" fill="url(#dsec)"/>
<rect x="465.2" y="340" width="23.2" height="79.6" rx="1.2" fill="url(#dialg)"/>
<path d="M477.96,346.77 Q481.90,347.96 480.98,351.14 Q480.05,354.33 477.96,354.73" fill="none" stroke="#f0f0f0" stroke-width="2.45" stroke-linecap="round"/>
<ellipse cx="473.55" cy="349.95" rx="2.32" ry="2.23" fill="#ececec"/>
<ellipse cx="476.80" cy="376.62" rx="4.76" ry="5.41" fill="none" stroke="#f6f6f6" stroke-width="3.02"/>
<path d="M473.55,402.49 L477.50,400.10 L477.50,411.40" fill="none" stroke="#f6f6f6" stroke-width="3.02" stroke-linejoin="miter"/>
<rect x="515.2" y="340" width="23.2" height="79.6" rx="1.2" fill="#151515"/>
<rect x="516.59" y="340.00" width="20.42" height="24.12" fill="url(#dsec)"/>
<rect x="516.59" y="365.47" width="20.42" height="21.09" fill="url(#dsec)"/>
<rect x="516.59" y="390.94" width="20.42" height="26.27" fill="url(#dsec)"/>
<rect x="515.2" y="340" width="23.2" height="79.6" rx="1.2" fill="url(#dialg)"/>
<path d="M527.96,346.77 Q531.90,347.96 530.98,351.14 Q530.05,354.33 527.96,354.73" fill="none" stroke="#f0f0f0" stroke-width="2.45" stroke-linecap="round"/>
<ellipse cx="523.55" cy="349.95" rx="2.32" ry="2.23" fill="#ececec"/>
<ellipse cx="526.80" cy="376.62" rx="4.76" ry="5.41" fill="none" stroke="#f6f6f6" stroke-width="3.02"/>
<path d="M523.55,402.49 L527.50,400.10 L527.50,411.40" fill="none" stroke="#f6f6f6" stroke-width="3.02" stroke-linejoin="miter"/>
<rect x="565" y="340" width="23.2" height="79.6" rx="1.2" fill="#151515"/>
<rect x="566.39" y="340.00" width="20.42" height="24.12" fill="url(#dsec)"/>
<rect x="566.39" y="365.47" width="20.42" height="21.09" fill="url(#dsec)"/>
<rect x="566.39" y="390.94" width="20.42" height="26.27" fill="url(#dsec)"/>
<rect x="565" y="340" width="23.2" height="79.6" rx="1.2" fill="url(#dialg)"/>
<path d="M577.76,346.77 Q581.70,347.96 580.78,351.14 Q579.85,354.33 577.76,354.73" fill="none" stroke="#f0f0f0" stroke-width="2.45" stroke-linecap="round"/>
<ellipse cx="573.35" cy="349.95" rx="2.32" ry="2.23" fill="#ececec"/>
<ellipse cx="576.60" cy="376.62" rx="4.76" ry="5.41" fill="none" stroke="#f6f6f6" stroke-width="3.02"/>
<path d="M573.35,402.49 L577.30,400.10 L577.30,411.40" fill="none" stroke="#f6f6f6" stroke-width="3.02" stroke-linejoin="miter"/>
</g>
<circle cx="706.1" cy="858.6" r="25" fill="#40759a"/><text x="706.1" y="872.6" font-size="38.7" fill="#fff" stroke="#fff" stroke-width="1.3" text-anchor="middle" font-family="Liberation Sans" >6</text></g>
<rect x="19.25" y="99.75" width="302.5" height="345.0" rx="10.5" fill="none" stroke="#eef7fc" stroke-width="5.5"/>
<rect x="19.25" y="99.75" width="302.5" height="345.0" rx="10.5" fill="none" stroke="#405c72" stroke-width="2.5"/>
<rect x="346.25" y="100.25" width="302.0" height="345.0" rx="10.5" fill="none" stroke="#eef7fc" stroke-width="5.5"/>
<rect x="346.25" y="100.25" width="302.0" height="345.0" rx="10.5" fill="none" stroke="#405c72" stroke-width="2.5"/>
<rect x="678.25" y="102.25" width="299.0" height="345.0" rx="10.5" fill="none" stroke="#eef7fc" stroke-width="5.5"/>
<rect x="678.25" y="102.25" width="299.0" height="345.0" rx="10.5" fill="none" stroke="#405c72" stroke-width="2.5"/>
<rect x="22.75" y="547.25" width="302.5" height="345.0" rx="10.5" fill="none" stroke="#eef7fc" stroke-width="5.5"/>
<rect x="22.75" y="547.25" width="302.5" height="345.0" rx="10.5" fill="none" stroke="#405c72" stroke-width="2.5"/>
<rect x="347.25" y="547.25" width="299.0" height="344.0" rx="10.5" fill="none" stroke="#eef7fc" stroke-width="5.5"/>
<rect x="347.25" y="547.25" width="299.0" height="344.0" rx="10.5" fill="none" stroke="#405c72" stroke-width="2.5"/>
<rect x="674.75" y="546.25" width="302.0" height="344.5" rx="10.5" fill="none" stroke="#eef7fc" stroke-width="5.5"/>
<rect x="674.75" y="546.25" width="302.0" height="344.5" rx="10.5" fill="none" stroke="#405c72" stroke-width="2.5"/>
<text x="175.6" y="68.6" font-size="61.5" fill="#44739a" stroke="#44739a" stroke-width="3.6" stroke-linejoin="round" font-family="Liberation Sans" font-weight="bold" textLength="103" lengthAdjust="spacingAndGlyphs">How</text>
<text x="295" y="68.6" font-size="61.5" fill="#44739a" stroke="#44739a" stroke-width="3.6" stroke-linejoin="round" font-family="Liberation Sans" font-weight="bold" textLength="46" lengthAdjust="spacingAndGlyphs">to</text>
<text x="357" y="68.6" font-size="61.5" fill="#44739a" stroke="#44739a" stroke-width="3.6" stroke-linejoin="round" font-family="Liberation Sans" font-weight="bold" textLength="71" lengthAdjust="spacingAndGlyphs">set</text>
<text x="446.6" y="68.6" font-size="61.5" fill="#44739a" stroke="#44739a" stroke-width="3.6" stroke-linejoin="round" font-family="Liberation Sans" font-weight="bold" textLength="78.5" lengthAdjust="spacingAndGlyphs">the</text>
<text x="538" y="68.6" font-size="61.5" fill="#44739a" stroke="#44739a" stroke-width="3.6" stroke-linejoin="round" font-family="Liberation Sans" font-weight="bold" textLength="285.1" lengthAdjust="spacingAndGlyphs">passwords?</text>
<text x="28.5" y="487.2" font-size="22.1" fill="#3e5f7c" stroke="#3e5f7c" stroke-width="0.35" text-anchor="start" font-family="Liberation Sans">Enter the default code 0-0-0-0</text>
<text x="27.5" y="509.6" font-size="22.1" fill="#3e5f7c" stroke="#3e5f7c" stroke-width="0.35" text-anchor="start" font-family="Liberation Sans">to open the key box.</text>
<text x="374.3" y="497" font-size="22.1" fill="#3e5f7c" stroke="#3e5f7c" stroke-width="0.35" text-anchor="start" font-family="Liberation Sans">Move the switch up again.</text>
<text x="720.6" y="483" font-size="22.1" fill="#3e5f7c" stroke="#3e5f7c" stroke-width="0.35" text-anchor="start" font-family="Liberation Sans">Push the metal rod from</text>
<text x="720.6" y="505.4" font-size="22.1" fill="#3e5f7c" stroke="#3e5f7c" stroke-width="0.35" text-anchor="start" font-family="Liberation Sans">position <tspan fill="#c8232b" stroke="#c8232b" font-weight="bold">A</tspan> to position <tspan fill="#c8232b" stroke="#c8232b" font-weight="bold">B</tspan>.</text>
<text x="54.2" y="923" font-size="22.1" fill="#3e5f7c" stroke="#3e5f7c" stroke-width="0.35" text-anchor="start" font-family="Liberation Sans">Set your new passwords</text>
<text x="22.4" y="951.8" font-size="22.1" fill="#3e5f7c" stroke="#3e5f7c" stroke-width="0.35" text-anchor="start" font-family="Liberation Sans">(Please align the numbers with</text>
<text x="22" y="976.9" font-size="22.1" fill="#3e5f7c" stroke="#3e5f7c" stroke-width="0.35" text-anchor="start" font-family="Liberation Sans">the line.)</text>
<text x="380.2" y="935.4" font-size="22.1" fill="#3e5f7c" stroke="#3e5f7c" stroke-width="0.35" text-anchor="start" font-family="Liberation Sans">Push the metal rod from</text>
<text x="380.2" y="959" font-size="22.1" fill="#3e5f7c" stroke="#3e5f7c" stroke-width="0.35" text-anchor="start" font-family="Liberation Sans">position <tspan fill="#c8232b" stroke="#c8232b" font-weight="bold">B</tspan> to position <tspan fill="#c8232b" stroke="#c8232b" font-weight="bold">A</tspan>.</text>
<text x="698" y="925.8" font-size="22.1" fill="#3e5f7c" stroke="#3e5f7c" stroke-width="0.35" text-anchor="start" font-family="Liberation Sans">Enter your new password.</text>
<text x="692.5" y="951" font-size="22.1" fill="#3e5f7c" stroke="#3e5f7c" stroke-width="0.35" text-anchor="start" font-family="Liberation Sans">If the switch can be toggled,</text>
<text x="663.3" y="974.8" font-size="21.8" fill="#3e5f7c" stroke="#3e5f7c" stroke-width="0.35" text-anchor="start" font-family="Liberation Sans">the password setting is complete.</text>
</svg>
</body></html>
